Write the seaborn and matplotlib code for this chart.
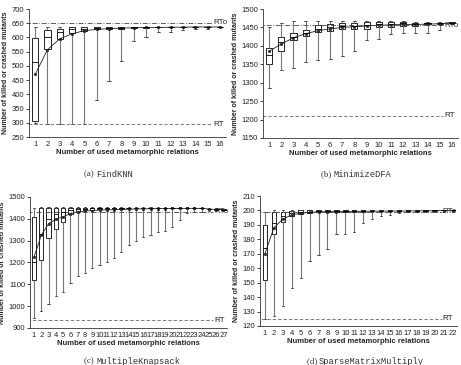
import numpy as np
import pandas as pd
import seaborn as sns
import matplotlib.pyplot as plt

# --- data: per number of MRs, (min, q1, median, q3, max) and mean ---
knn_min = [298, 295, 295, 297, 295, 380, 447, 517, 587, 600, 618, 620, 625, 628, 630, 636]
knn_q1 = [305, 560, 595, 615, 623, 628, 630, 631, 633, 634, 635, 635, 636, 636, 637, 637]
knn_med = [515, 602, 620, 628, 630, 632, 634, 634, 635, 636, 636, 637, 637, 637, 637, 637]
knn_q3 = [598, 625, 630, 635, 635, 636, 637, 637, 637, 637, 637, 637, 638, 638, 638, 638]
knn_max = [637, 637, 637, 637, 637, 637, 638, 638, 638, 638, 638, 638, 638, 638, 638, 638]
knn_mean = [470, 557, 595, 613, 624, 628, 631, 633, 634, 635, 635, 636, 636, 637, 637, 637]
knn_rt, knn_rto = 295, 651

dfa_min = [1285, 1335, 1340, 1355, 1362, 1365, 1372, 1385, 1415, 1418, 1432, 1436, 1434, 1435, 1442, 1458]
dfa_q1 = [1350, 1385, 1415, 1428, 1437, 1440, 1445, 1446, 1447, 1450, 1452, 1455, 1455, 1458, 1460, 1461]
dfa_med = [1375, 1410, 1425, 1436, 1446, 1450, 1455, 1455, 1456, 1458, 1460, 1462, 1460, 1462, 1462, 1463]
dfa_q3 = [1395, 1423, 1436, 1442, 1456, 1460, 1462, 1462, 1464, 1465, 1466, 1466, 1463, 1463, 1463, 1464]
dfa_max = [1450, 1462, 1468, 1468, 1468, 1468, 1468, 1468, 1468, 1468, 1468, 1468, 1466, 1466, 1466, 1466]
dfa_mean = [1385, 1405, 1422, 1433, 1441, 1446, 1450, 1452, 1454, 1456, 1457, 1458, 1458, 1459, 1460, 1461]
dfa_rt, dfa_rto = 1211, 1456

mk_min = [945, 978, 1010, 1045, 1065, 1105, 1140, 1152, 1175, 1190, 1200, 1220, 1248, 1280,
          1298, 1318, 1328, 1338, 1345, 1362, 1395, 1425, 1430, 1432, 1435, 1438, 1440]
mk_q1 = [1118, 1210, 1312, 1352, 1385, 1420, 1430, 1440, 1442, 1445, 1446, 1447, 1447, 1448,
         1448, 1448, 1449, 1449, 1449, 1449, 1449, 1449, 1449, 1448, 1444, 1442, 1441]
mk_med = [1200, 1330, 1400, 1420, 1430, 1440, 1445, 1447, 1448, 1449, 1449, 1450, 1450, 1450,
          1450, 1450, 1450, 1450, 1450, 1450, 1450, 1450, 1450, 1449, 1445, 1443, 1442]
mk_q3 = [1408, 1450, 1450, 1450, 1450, 1450, 1450, 1450, 1450, 1450, 1450, 1451, 1451, 1451,
         1451, 1451, 1451, 1451, 1451, 1451, 1451, 1451, 1451, 1450, 1446, 1444, 1443]
mk_max = [1450, 1452, 1452, 1452, 1452, 1452, 1452, 1452, 1452, 1452, 1452, 1452, 1452, 1452,
          1452, 1452, 1452, 1452, 1452, 1452, 1452, 1452, 1452, 1451, 1447, 1445, 1444]
mk_mean = [1225, 1325, 1378, 1398, 1410, 1423, 1432, 1436, 1438, 1440, 1441, 1442, 1443, 1444,
           1445, 1446, 1446, 1447, 1447, 1448, 1448, 1448, 1448, 1448, 1445, 1443, 1442]
mk_rt, mk_rto = 935, 1432

smm_min = [125, 127, 134, 146, 153, 165, 169, 173, 184, 184, 185, 191, 194, 196, 197, 198,
           199, 199, 199.5, 199.5, 200, 200]
smm_q1 = [152, 184, 192, 196, 197.5, 198, 199, 199, 199, 199, 199, 199.2, 199.3, 199.4, 199.5,
          199.5, 199.6, 199.7, 199.8, 199.8, 200, 200]
smm_med = [174, 191, 196, 198, 199, 199, 199.5, 199.5, 199.5, 199.5, 199.6, 199.6, 199.7,
           199.7, 199.8, 199.8, 199.8, 199.9, 199.9, 200, 200, 200]
smm_q3 = [190, 199, 199, 199.5, 200, 200, 200, 200, 200, 200, 200, 200, 200, 200, 200, 200,
          200, 200, 200, 200, 200, 200]
smm_max = [199, 200, 200, 200, 200, 200, 200, 200, 200, 200, 200, 200, 200, 200, 200, 200,
           200, 200, 200, 200, 200, 200]
smm_mean = [170, 188, 194, 197, 198, 198.7, 199, 199.1, 199.2, 199.3, 199.4, 199.4, 199.5,
            199.5, 199.6, 199.6, 199.7, 199.7, 199.8, 199.8, 199.9, 199.9]
smm_rt, smm_rto = 125, 199

ylims = [(250, 700), (1150, 1500), (900, 1500), (120, 210)]
yticks = [np.arange(250, 701, 50), np.arange(1150, 1501, 50),
          np.arange(900, 1501, 100), np.arange(120, 211, 10)]
captions = [("(a)", "FindKNN"), ("(b)", "MinimizeDFA"),
            ("(c)", "MultipleKnapsack"), ("(d)", "SparseMatrixMultiply")]

sns.set_style("ticks")
plt.rcParams['font.family'] = ['Liberation Sans', 'DejaVu Sans']

fig = plt.figure(figsize=(4.61, 3.65), dpi=100)
W, H = 461, 365


def px_axes(left, top, right, bottom):
    return fig.add_axes([left / W, 1 - bottom / H, (right - left) / W, (bottom - top) / H])


panels = [
    (px_axes(29, 9, 226, 137), knn_min, knn_q1, knn_med, knn_q3, knn_max, knn_mean, knn_rt, knn_rto, 0.5, 14.4),
    (px_axes(263, 9, 458, 138), dfa_min, dfa_q1, dfa_med, dfa_q3, dfa_max, dfa_mean, dfa_rt, dfa_rto, 0.5, 14.3),
    (px_axes(30, 197, 227, 328), mk_min, mk_q1, mk_med, mk_q3, mk_max, mk_mean, mk_rt, mk_rto, 0.6, 24.6),
    (px_axes(260, 196, 457, 326), smm_min, smm_q1, smm_med, smm_q3, smm_max, smm_mean, smm_rt, smm_rto, 0.5, 19.8),
]

for i, (ax, mn, q1, md, q3, mx, mean, rt, rto, bw, line_end) in enumerate(panels):
    n = len(mn)
    groups = [str(k + 1) for k in range(n)]
    # five points per group reproduce the box exactly with whis=(0, 100)
    rows = []
    for g, vals in zip(groups, zip(mn, q1, md, q3, mx)):
        for v in vals:
            rows.append((g, v))
    df = pd.DataFrame(rows, columns=['mrs', 'killed'])

    sns.boxplot(data=df, x='mrs', y='killed', order=groups, whis=(0, 100), width=bw,
                color='white', linecolor='black', linewidth=0.6, fliersize=0, ax=ax,
                whiskerprops=dict(color='#777777', linewidth=0.8),
                capprops=dict(color='#333333', linewidth=0.6))
    sns.pointplot(x=groups, y=mean, order=groups, color='#222222', markers='s',
                  markersize=1.5, linewidth=0.6, ax=ax)

    ax.plot([-1, line_end], [rto, rto], ls=(0, (6, 2, 1, 2)), color='#444444', lw=0.6)
    ax.plot([-1, line_end], [rt, rt], ls=(0, (4, 2.5)), color='#666666', lw=0.6)
    ax.text(line_end + 0.1, rto, 'RTo', fontsize=5.8, va='center', ha='left', color='#222222')
    ax.text(line_end + 0.1, rt, 'RT', fontsize=5.8, va='center', ha='left', color='#222222')

    ax.set_xlim(-0.5 if i < 2 else -0.55, n - 0.5)
    ax.set_ylim(*ylims[i])
    ax.set_yticks(yticks[i])
    ax.tick_params(axis='both', labelsize=5.5, length=2, width=0.6, pad=1.5, colors='#222222')
    ax.tick_params(axis='x', length=0, pad=3)
    for sp in ['top', 'right']:
        ax.spines[sp].set_visible(False)
    for sp in ['left', 'bottom']:
        ax.spines[sp].set_linewidth(0.6)
        ax.spines[sp].set_color('#333333')
    ax.set_xlabel('Number of used metamorphic relations', fontsize=5.5, fontweight='bold', labelpad=0.5)
    ax.set_ylabel('Number of killed or crashed mutants', fontsize=5.0, fontweight='bold', labelpad=1.5)

# sub-figure captions
cap_pos = [(96, 174), (333, 174), (96, 361), (319, 361)]
for (lab, name), (cx, cy) in zip(captions, cap_pos):
    fig.text(cx / W, 1 - cy / H, lab + ' ', fontsize=6.3, family='Liberation Serif',
             ha='right', va='center', color='#333333')
    fig.text(cx / W, 1 - cy / H, name, fontsize=6.3, family='Liberation Mono',
             ha='left', va='center', color='#333333')

fig.savefig('out.png', dpi=100)
